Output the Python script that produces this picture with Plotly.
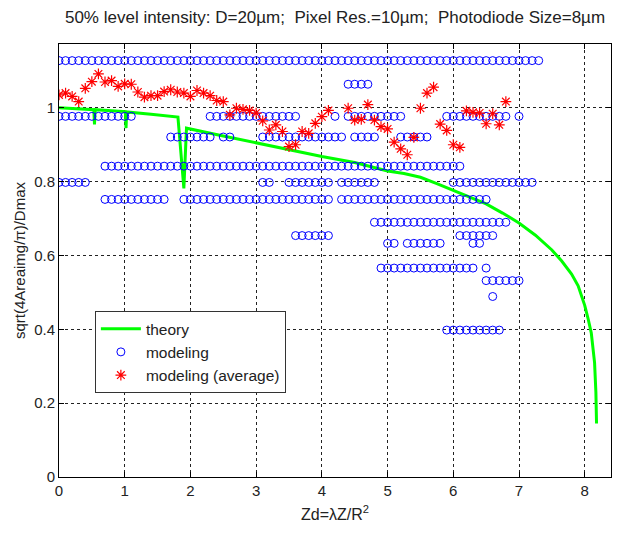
import numpy as np
import plotly.graph_objects as go

# ---------------- data ----------------
# theory curve (green)
theory_x = [0.0, 0.30, 0.53, 0.54, 0.55, 0.80, 1.01, 1.02, 1.03, 1.40, 1.81,
            1.90, 1.94, 2.50, 3.00, 3.50, 4.00, 4.50, 5.00, 5.25, 5.50, 5.75,
            6.00, 6.25, 6.50, 6.75, 7.00, 7.25, 7.50, 7.65, 7.80, 7.90, 8.00,
            8.05, 8.10, 8.15, 8.17, 8.18]
theory_y = [1.000, 0.998, 0.995, 0.955, 0.995, 0.992, 0.990, 0.945, 0.989, 0.983, 0.975,
            0.782, 0.945, 0.924, 0.905, 0.886, 0.868, 0.852, 0.829, 0.822, 0.812, 0.795,
            0.776, 0.757, 0.740, 0.715, 0.688, 0.655, 0.615, 0.585, 0.550, 0.518, 0.465,
            0.430, 0.390, 0.310, 0.230, 0.145]

# modeling (blue circles): level -> list of (first x, last x) runs on the 0.1 grid
model_levels = [1.128, 1.064, 0.977, 0.921, 0.842, 0.798, 0.752,
                0.690, 0.654, 0.633, 0.566, 0.532, 0.489, 0.398]
model_runs = [
    [(0.0, 7.3)],
    [(4.4, 4.7)],
    [(0.0, 1.1), (2.3, 3.6), (4.2, 4.2), (4.4, 5.2), (5.9, 6.8), (7.0, 7.0)],
    [(1.7, 2.3), (2.5, 2.6), (3.1, 4.3), (4.5, 4.8), (5.2, 5.6)],
    [(0.7, 6.1)],
    [(0.0, 0.4), (3.1, 3.2), (3.5, 4.1), (4.3, 4.8), (6.0, 7.2)],
    [(0.7, 1.6), (1.9, 4.1), (4.3, 6.5)],
    [(4.8, 6.8)],
    [(3.6, 4.1), (6.1, 6.6)],
    [(5.0, 5.1), (5.3, 5.8), (6.3, 6.4)],
    [(4.9, 6.3), (6.5, 6.5)],
    [(6.5, 7.0)],
    [(6.6, 6.6)],
    [(5.9, 6.7)],
]

# modeling (average) red stars
avg_x = [0.0, 0.1, 0.2, 0.3, 0.4, 0.5, 0.6, 0.7, 0.8, 0.9, 1.0, 1.1, 1.2, 1.3,
         1.4, 1.5, 1.6, 1.7, 1.8, 1.9, 2.0, 2.1, 2.2, 2.3, 2.4, 2.5, 2.6, 2.7,
         2.8, 2.9, 3.0, 3.1, 3.2, 3.3, 3.4, 3.5, 3.6, 3.7, 3.8, 3.9, 4.0, 4.1,
         4.4, 4.5, 4.6, 4.7, 4.8, 4.9, 5.0, 5.1, 5.2, 5.3, 5.4, 5.5, 5.6, 5.7,
         5.8, 5.9, 6.0, 6.1, 6.2, 6.3, 6.4, 6.5, 6.6, 6.7, 6.8]
avg_y = [1.035, 1.040, 1.031, 1.017, 1.053, 1.071, 1.092, 1.070, 1.074, 1.058,
         1.065, 1.064, 1.043, 1.029, 1.033, 1.033, 1.044, 1.049, 1.043, 1.040,
         1.031, 1.047, 1.040, 1.033, 1.020, 1.017, 0.981, 0.999, 0.996, 0.993,
         0.986, 0.965, 0.940, 0.954, 0.936, 0.895, 0.900, 0.936, 0.931, 0.958,
         0.976, 0.993, 0.999, 0.967, 0.969, 1.009, 0.967, 0.949, 0.943, 0.907,
         0.889, 0.873, 0.920, 0.999, 1.040, 1.056, 0.956, 0.939, 0.900, 0.893,
         0.992, 0.988, 0.986, 0.957, 0.984, 0.954, 1.017]

x_ticks = [0, 1, 2, 3, 4, 5, 6, 7, 8]
y_ticks = [0, 0.2, 0.4, 0.6, 0.8, 1]
y_tick_text = ["0", "0.2", "0.4", "0.6", "0.8", "1"]

# ---------------- build circle point lists ----------------
mx, my = [], []
for lvl, runs in zip(model_levels, model_runs):
    for a, b in runs:
        n = int(round((b - a) / 0.1)) + 1
        for i in range(n):
            mx.append(round(a + 0.1 * i, 2))
            my.append(lvl)

FONT = "Liberation Sans, Arial, Helvetica, sans-serif"
TXT = "#222222"

fig = go.Figure()
fig.add_trace(go.Scatter(x=theory_x, y=theory_y, mode="lines", name="theory",
                         line=dict(color="#00ff00", width=3)))
fig.add_trace(go.Scatter(x=mx, y=my, mode="markers", name="modeling",
                         marker=dict(symbol="circle-open", size=8, color="#0000ff",
                                     line=dict(width=1, color="#0000ff"))))
fig.add_trace(go.Scatter(x=avg_x, y=avg_y, mode="markers", name="modeling (average)",
                         marker=dict(symbol="asterisk-open", size=9, color="#ff0000",
                                     line=dict(width=1.2, color="#ff0000"))))

axis_common = dict(showline=True, linecolor="black", linewidth=1, mirror="allticks",
                   ticks="inside", ticklen=5, tickcolor="black",
                   showgrid=True, gridcolor="#222222", gridwidth=1, griddash="3px,3px",
                   zeroline=False, tickfont=dict(family=FONT, size=15, color=TXT))

fig.update_layout(
    width=617, height=534,
    margin=dict(l=59, r=6, t=44, b=57),
    paper_bgcolor="white", plot_bgcolor="white",
    title=dict(text="50% level intensity: D=20\u00b5m;  Pixel Res.=10\u00b5m;  Photodiode Size=8\u00b5m",
               x=0.543, xanchor="center", y=0.968, yanchor="middle",
               font=dict(family=FONT, size=17, color=TXT)),
    showlegend=True,
    legend=dict(x=0.065, y=0.383, xanchor="left", yanchor="top",
                bgcolor="white", bordercolor="#333333", borderwidth=1,
                font=dict(family=FONT, size=15.5, color=TXT),
                tracegroupgap=0, itemwidth=40),
    xaxis=dict(range=[0, 8.4], tickvals=x_ticks,
               title=dict(text="Zd=\u03bbZ/R<sup>2</sup>", standoff=10,
                          font=dict(family=FONT, size=16, color=TXT)),
               **axis_common),
    yaxis=dict(range=[0, 1.173], tickvals=y_ticks, ticktext=y_tick_text,
               title=dict(text="sqrt(4Areaimg/\u03c0)/Dmax", standoff=4,
                          font=dict(family=FONT, size=15, color=TXT)),
               **axis_common),
)

fig.write_html("out.html")
